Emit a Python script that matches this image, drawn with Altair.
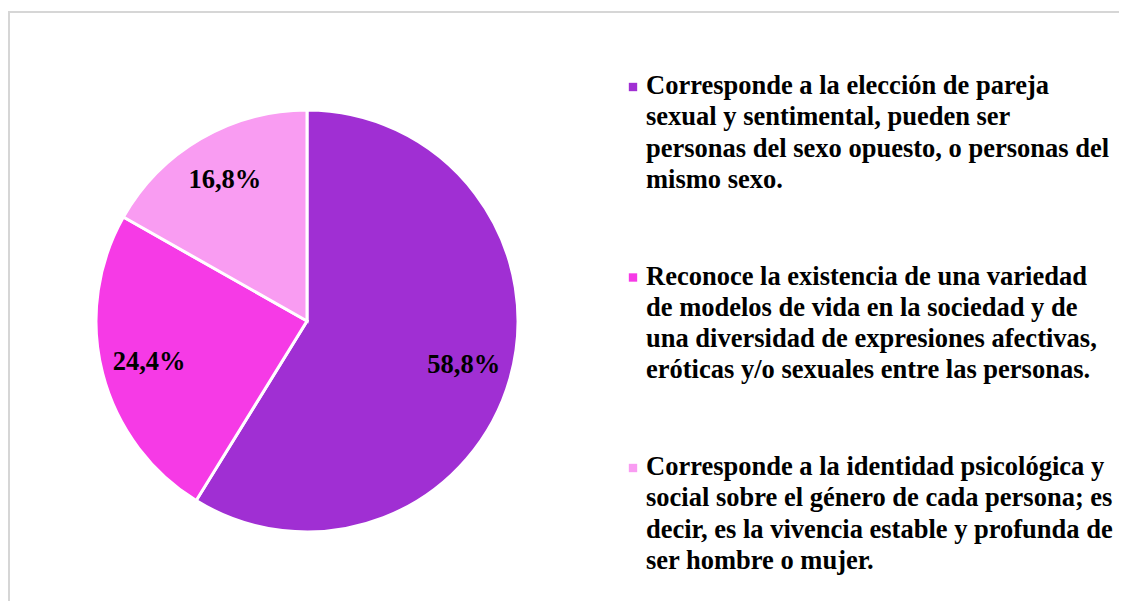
import altair as alt
import pandas as pd

categories = [
    "Corresponde a la elección de pareja sexual y sentimental",
    "Reconoce la existencia de una variedad de modelos de vida",
    "Corresponde a la identidad psicológica y social",
]
values = [58.8, 24.4, 16.8]
legend_lines = [
    ["Corresponde a la elección de pareja",
     "sexual y sentimental, pueden ser",
     "personas del sexo opuesto, o personas del",
     "mismo sexo."],
    ["Reconoce la existencia de una variedad",
     "de modelos de vida en la sociedad y de",
     "una diversidad de expresiones afectivas,",
     "eróticas y/o sexuales entre las personas."],
    ["Corresponde a la identidad psicológica y",
     "social sobre el género de cada persona; es",
     "decir, es la vivencia estable y profunda de",
     "ser hombre o mujer."],
]
colors = ["#A02FD3", "#F63AE6", "#F99CF2"]

df = pd.DataFrame({
    "cat": categories,
    "value": values,
    "idx": list(range(len(categories))),
    "lines": legend_lines,
})

W, H = 1111, 593
FONT = "Liberation Serif"
FS = 26.5
cx, cy = 299, 313

color = alt.Color("cat:N", scale=alt.Scale(domain=categories, range=colors), legend=None)

base = alt.Chart(df)

pie = base.mark_arc(outerRadius=211, stroke="white", strokeWidth=3).encode(
    theta=alt.Theta("value:Q", stack=True),
    color=color,
    order=alt.Order("idx:Q"),
    x=alt.value(cx), y=alt.value(cy),
)

labels = base.transform_calculate(
    label="replace(format(datum.value, '.1f'), '.', ',') + '%'"
).mark_text(radius=163, font=FONT, fontWeight="bold", fontSize=FS, color="black").encode(
    theta=alt.Theta("value:Q", stack=True),
    order=alt.Order("idx:Q"),
    text="label:N",
    x=alt.value(cx), y=alt.value(cy),
)

yscale = alt.Scale(domain=categories, range=[79, 460], padding=0)

squares = base.mark_square(size=70, opacity=1).encode(
    x=alt.value(625),
    y=alt.Y("cat:N", scale=yscale, axis=None),
    color=color,
)

legend_text = base.mark_text(
    align="left", baseline="line-top", dy=-16, font=FONT, fontWeight="bold",
    fontSize=FS, lineHeight=31.3, color="black"
).encode(
    x=alt.value(638),
    y=alt.Y("cat:N", scale=yscale, axis=None),
    text="lines",
)

frame_top = base.mark_rule(color="#D6D6D6", strokeWidth=2).encode(
    x=alt.value(0), x2=alt.value(W), y=alt.value(4)
)
frame_left = base.mark_rule(color="#D6D6D6", strokeWidth=2).encode(
    x=alt.value(1), y=alt.value(4), y2=alt.value(H)
)

chart = alt.layer(frame_top, frame_left, pie, labels, squares, legend_text).properties(
    width=W, height=H, padding=0, autosize=alt.AutoSizeParams(type="none"),
    background="white",
).configure_view(stroke=None)

chart.save("out.html", embed_options={"renderer": "svg", "actions": False})
